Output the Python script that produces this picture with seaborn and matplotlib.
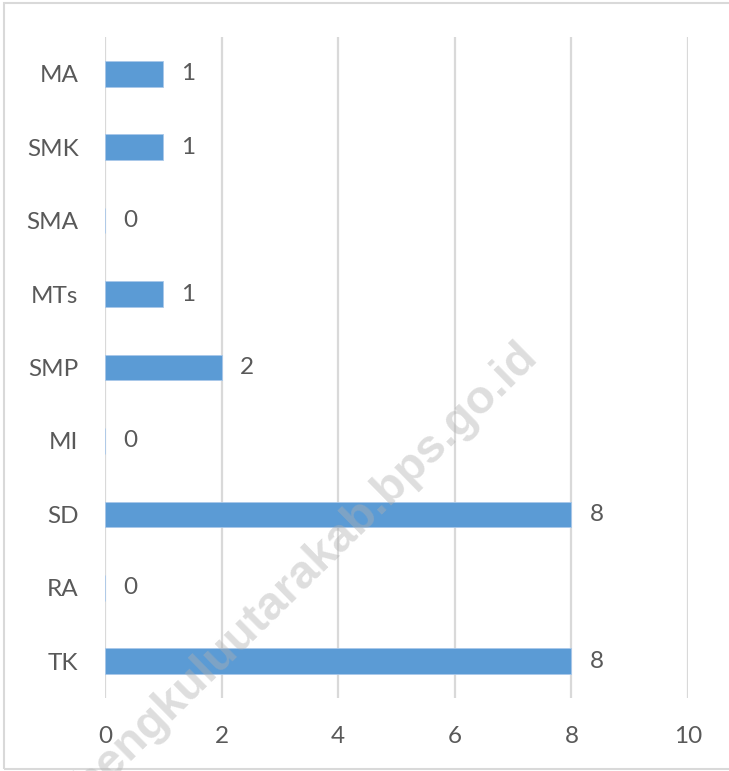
import matplotlib
matplotlib.use("Agg")
import matplotlib.pyplot as plt
import seaborn as sns
import pandas as pd
from matplotlib.patches import Rectangle

# data, top to bottom as shown in the chart
categories = ["MA", "SMK", "SMA", "MTs", "SMP", "MI", "SD", "RA", "TK"]
values = [1, 1, 0, 1, 2, 0, 8, 0, 8]
x_ticks = [0, 2, 4, 6, 8, 10]
watermark = "bengkuluutarakab.bps.go.id"

text_color = "#595959"
bar_color = "#5B9BD5"
grid_color = "#D9D9D9"

sns.set_style("white")
plt.rcParams["font.family"] = ["Lato", "DejaVu Sans"]

df = pd.DataFrame({"jenjang": categories, "jumlah": values})

fig = plt.figure(figsize=(7.29, 7.71), dpi=100)
ax = fig.add_axes([105 / 729, 1 - 698 / 771, (688 - 105) / 729, (698 - 37) / 771])

sns.barplot(data=df, x="jumlah", y="jenjang", order=categories, orient="h",
            color=bar_color, width=0.35, saturation=1, edgecolor="#A9C8EA",
            linewidth=0.6, ax=ax, zorder=3)

ax.set_xlim(0, 10)
ax.set_ylim(len(categories) - 0.5, -0.5)
ax.set_xticks(x_ticks)
ax.set_xlabel("")
ax.set_ylabel("")
for s in ax.spines.values():
    s.set_visible(False)
ax.xaxis.grid(True, color=grid_color, linewidth=1.6, zorder=0)
ax.set_axisbelow(True)
ax.tick_params(axis="both", length=0, labelsize=17.5, labelcolor=text_color)
ax.tick_params(axis="y", pad=19)
ax.tick_params(axis="x", pad=20)

for cont in ax.containers:
    ax.bar_label(cont, labels=[str(v) for v in values], padding=13,
                 fontsize=17.5, color=text_color)

# outer chart border (cut off on the right)
fig.patches.append(Rectangle((3.5 / 729, 2.5 / 771), 1.2, 1 - 5 / 771,
                             transform=fig.transFigure, fill=False,
                             edgecolor=grid_color, linewidth=1.5))

# watermark, partly cut off at the bottom like the original
fig.text(306 / 729, 1 - 570 / 771, watermark, rotation=44.5, ha="center",
         va="center", fontsize=34, fontweight="bold", color="#B0B0B0",
         alpha=0.42, family="Liberation Sans", zorder=10)

fig.savefig("out.png", dpi=100)
